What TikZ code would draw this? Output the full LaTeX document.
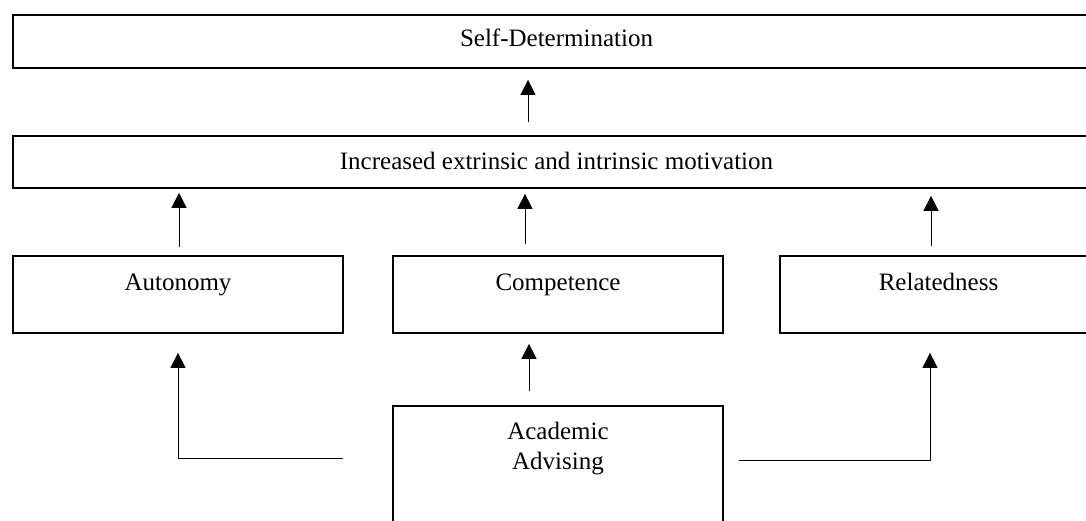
\documentclass[tikz,border=0pt]{standalone}
\usepackage{fontspec}
\setmainfont{Liberation Serif}
\usetikzlibrary{arrows.meta}

\begin{document}
\begin{tikzpicture}[x=1pt,y=-1pt]

\tikzstyle{box}=[rectangle,draw,line width=1.7pt,inner sep=0pt,minimum width=330pt,font=\fontsize{25}{30}\selectfont]
\tikzstyle{wide}=[box,minimum width=1087pt]
\tikzstyle{need}=[box,minimum height=77pt,text height=16pt,text depth=25pt]
\tikzstyle{link}=[line width=1pt,-{Triangle[length=15pt,width=15pt]}]

\useasboundingbox (0,0) rectangle (1086,521);
\clip (0,0) rectangle (1086,521);

%outcomes
\node[wide,minimum height=53pt,text height=16pt,text depth=5pt] (self) at (556.5,41.5) {Self-Determination};
\node[wide,minimum height=52pt,text height=16pt,text depth=0pt] (incr) at (556.5,162) {Increased extrinsic and intrinsic motivation};

%needs
\node[need] (auton) at (178,294.5) {Autonomy};
\node[need] (compet) at (558,294.5) {Competence};
\node[need,minimum width=317pt] (relat) at (938.5,294.5) {Relatedness};

%advising
\node[box,anchor=north,align=center,text height=64pt,text depth=150pt] (advis) at (558,405) {Academic\\Advising};

\coordinate (lstart) at (343,458);
\coordinate (rstart) at (739,460);

%connections
\draw[link,shorten <=13pt,shorten >=11pt] ([xshift=-28.5pt]incr.north) -- ([xshift=-28.5pt]incr.north |- self.south);
\draw[link,shorten <=8pt,shorten >=4pt] ([xshift=1pt]auton.north) -- ([xshift=1pt]auton.north |- incr.south);
\draw[link,shorten <=11pt,shorten >=5pt] ([xshift=-33pt]compet.north) -- ([xshift=-33pt]compet.north |- incr.south);
\draw[link,shorten <=9pt,shorten >=7pt] ([xshift=-7.5pt]relat.north) -- ([xshift=-7.5pt]relat.north |- incr.south);

\draw[link,shorten <=14pt,shorten >=10pt] ([xshift=-29pt]advis.north) -- ([xshift=-29pt]advis.north |- compet.south);
\draw[link,shorten >=19pt] (lstart) -| (auton.south);
\draw[link,shorten >=19pt] (rstart) -| ([xshift=-8.5pt]relat.south);

\end{tikzpicture}
\end{document}
